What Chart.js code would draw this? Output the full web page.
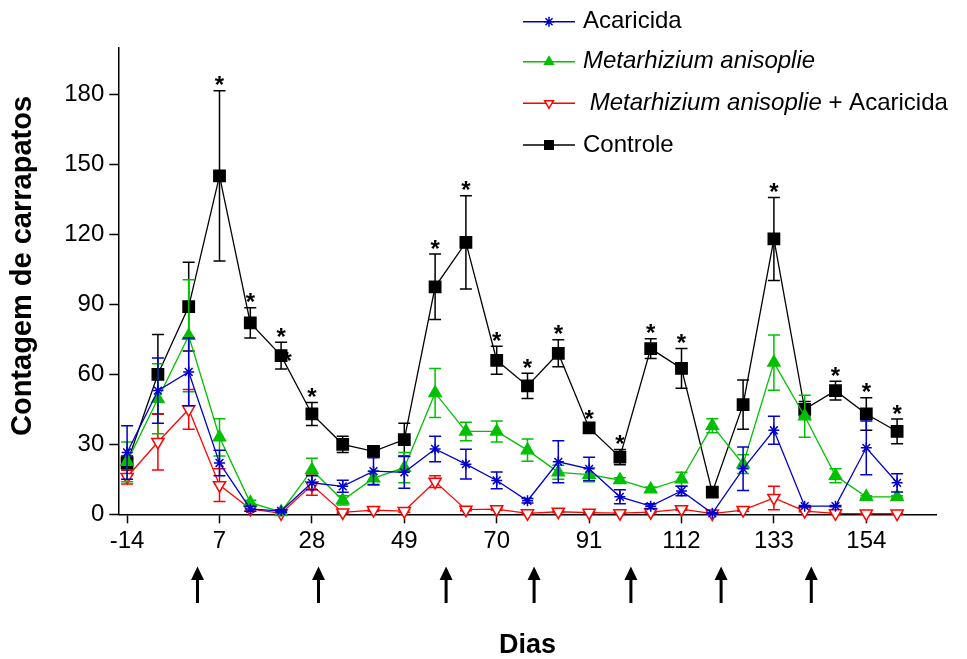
<!DOCTYPE html>
<html>
<head>
<meta charset="utf-8">
<script src="https://cdn.jsdelivr.net/npm/chart.js@4"></script>
<style>
    body { margin: 0; background: #fff; }
    #grafico { display: block; }
</style>
</head>
<body>
<canvas id="grafico" width="967" height="659"></canvas>
<script>
// Dias de coleta
const dias = [-14, -7, 0, 7, 14, 21, 28, 35, 42, 49, 56, 63, 70, 77, 84, 91, 98, 105, 112, 119, 126, 133, 140, 147, 154, 161];

// Médias e erro padrão de cada grupo
const acaricida = [26.5, 53, 61, 22, 2.3, 1.4, 13.5, 12, 18.5, 18, 28, 21.5, 14.5, 5.8, 22.5, 19.5, 7.5, 3.5, 10, 0.4, 19.5, 36, 3.5, 3.5, 28.5, 13.5];
const acaricidaEP = [11.5, 14, 14.5, 5.5, 1, 0.5, 3, 2.6, 5.7, 6.8, 5.5, 6.4, 3.6, 1, 9, 5, 3, 1, 2, 0.3, 9.3, 6, 0.3, 0.3, 11.5, 3.9];

const metarhizium = [22.5, 49.5, 76.5, 33, 5, 1, 19, 6, 15.5, 20, 52, 35.5, 35.5, 27.5, 18, 17, 14.7, 10.7, 15, 38, 21.5, 65, 42, 16.5, 7.5, 7.5];
const metarhiziumEP = [8.5, 15, 24, 8, 1, 0.5, 5, 2, 3, 6.5, 10.5, 4, 4.5, 4.8, 3, 3, 1, 1, 3, 3, 4, 11.8, 9, 3, 0.5, 0.5];

const metaAcaricida = [16, 31, 45, 12.5, 2.3, 0.4, 12.5, 0.8, 1.8, 1.4, 14, 2, 2.2, 0.4, 1.1, 0.7, 0.5, 0.9, 2.2, 0.3, 1.8, 7, 1.4, 0.4, 0.3, 0.3];
const metaAcaricidaEP = [3, 12, 8.5, 7, 1, 0.3, 4.3, 0.3, 0.5, 0.5, 2.5, 0.5, 0.5, 0.2, 0.3, 0.2, 0.2, 0.3, 0.5, 0.2, 0.5, 5, 0.3, 0.2, 0.2, 0.2];

const controle = [22, 60, 89, 145, 82, 68, 43, 30, 27, 32, 97.5, 116.5, 66, 55, 69, 37, 24.5, 71, 62.5, 9.5, 47, 118, 45, 53, 43, 35.5];
const controleEP = [3, 17, 19, 36.5, 6.5, 5.7, 4.9, 3.5, 2, 7, 14, 20, 6, 5.4, 5.8, 1.5, 3.3, 4.2, 8.5, 2, 10.6, 17.8, 3.3, 4, 7, 5.3];

// Dias com diferença significativa (asterisco sobre o controle)
const diasSignificativos = [7, 14, 21, 28, 56, 63, 70, 77, 84, 91, 98, 105, 112, 133, 147, 154, 161];
const asteriscoExtra = [21];

// Dias de tratamento (setas)
const diasTratamento = [2, 29.5, 58.5, 78.5, 100.5, 121, 141.5];

// Ticks dos eixos
const ticksX = [-14, 7, 28, 49, 70, 91, 112, 133, 154];
const ticksY = [0, 30, 60, 90, 120, 150, 180];

const FONTE = "'Liberation Sans', Arial, sans-serif";

function pontos(valores) {
    return valores.map((v, i) => ({ x: dias[i], y: v }));
}

const grupos = [
    { nome: "Acaricida", dados: acaricida, ep: acaricidaEP, cor: "#0000cc", estilo: "star", raio: 5.5, fundo: "#0000cc", rot: 0 },
    { nome: "Metarhizium anisoplie", dados: metarhizium, ep: metarhiziumEP, cor: "#00c000", estilo: "triangle", raio: 7, fundo: "#00c000", rot: 0 },
    { nome: "Metarhizium anisoplie + Acaricida", dados: metaAcaricida, ep: metaAcaricidaEP, cor: "#ff0000", estilo: "triangle", raio: 7, fundo: "#ffffff", rot: 180 },
    { nome: "Controle", dados: controle, ep: controleEP, cor: "#000000", estilo: "rect", raio: 8, fundo: "#000000", rot: 0 }
];

// Barras de erro desenhadas antes de cada série
const barrasErro = {
    id: "barrasErro",
    beforeDatasetDraw(chart, args) {
        const g = grupos[args.index];
        const ctx = chart.ctx;
        const x = chart.scales.x, y = chart.scales.y;
        ctx.save();
        ctx.strokeStyle = g.cor;
        ctx.lineWidth = 1.5;
        g.dados.forEach((v, i) => {
            const px = x.getPixelForValue(dias[i]);
            const yTop = y.getPixelForValue(v + g.ep[i]);
            const yBot = y.getPixelForValue(Math.max(0, v - g.ep[i]));
            ctx.beginPath();
            ctx.moveTo(px, yTop); ctx.lineTo(px, yBot);
            ctx.moveTo(px - 6, yTop); ctx.lineTo(px + 6, yTop);
            ctx.moveTo(px - 6, yBot); ctx.lineTo(px + 6, yBot);
            ctx.stroke();
        });
        ctx.restore();
    }
};

// Asteriscos, setas, títulos dos eixos e legenda
const extras = {
    id: "extras",
    afterDraw(chart) {
        const ctx = chart.ctx;
        const x = chart.scales.x, y = chart.scales.y;
        ctx.save();
        ctx.fillStyle = "#000";
        ctx.font = "bold 24px " + FONTE;
        ctx.textAlign = "center";
        ctx.textBaseline = "alphabetic";
        diasSignificativos.forEach(d => {
            const i = dias.indexOf(d);
            const px = x.getPixelForValue(d);
            const py = y.getPixelForValue(controle[i] + controleEP[i]);
            ctx.fillText("*", px, py - 11 + 13.5);
        });
        asteriscoExtra.forEach(d => {
            const i = dias.indexOf(d);
            ctx.fillText("*", x.getPixelForValue(d) + 6, y.getPixelForValue(controle[i]) + 13.5);
        });

        // setas
        ctx.strokeStyle = "#000";
        ctx.lineWidth = 3;
        diasTratamento.forEach(d => {
            const px = x.getPixelForValue(d);
            ctx.beginPath();
            ctx.moveTo(px, 603); ctx.lineTo(px, 578);
            ctx.stroke();
            ctx.beginPath();
            ctx.moveTo(px - 6.5, 580); ctx.lineTo(px + 6.5, 580); ctx.lineTo(px, 566.5);
            ctx.closePath();
            ctx.fill();
        });

        // títulos dos eixos
        ctx.textBaseline = "middle";
        ctx.font = "bold 27px " + FONTE;
        ctx.fillText("Dias", (chart.chartArea.left + chart.chartArea.right) / 2, 646);
        ctx.save();
        ctx.translate(23, 266);
        ctx.rotate(-Math.PI / 2);
        ctx.font = "bold 29px " + FONTE;
        ctx.fillText("Contagem de carrapatos", 0, 0);
        ctx.restore();

        // legenda
        const linhasY = [21.7, 61.7, 103.3, 145];
        ctx.textAlign = "left";
        grupos.forEach((g, k) => {
            const ly = linhasY[k];
            ctx.strokeStyle = g.cor;
            ctx.lineWidth = 1.5;
            ctx.beginPath();
            ctx.moveTo(523, ly); ctx.lineTo(575, ly);
            ctx.stroke();
            ctx.fillStyle = g.fundo;
            ctx.lineWidth = 1.5;
            Chart.helpers.drawPoint(ctx, {
                pointStyle: g.estilo,
                radius: g.estilo === "rect" ? 6 : 5,
                rotation: g.rot,
                borderWidth: 1.5
            }, 549, ly);
            ctx.fillStyle = "#000";
            if (k === 0 || k === 3) {
                ctx.font = "24px " + FONTE;
                ctx.fillText(g.nome, 583, ly);
            } else {
                ctx.font = "italic 24px " + FONTE;
                const italico = (k === 2 ? " " : "") + "Metarhizium anisoplie";
                ctx.fillText(italico, 583, ly);
                if (k === 2) {
                    const w = ctx.measureText(italico).width;
                    ctx.font = "24px " + FONTE;
                    ctx.fillText(" + Acaricida", 583 + w, ly);
                }
            }
        });
        ctx.restore();
    }
};

const ctx = document.getElementById("grafico").getContext("2d");

new Chart(ctx, {
    type: "line",
    data: {
        datasets: grupos.map(g => ({
            label: g.nome,
            data: pontos(g.dados),
            borderColor: g.cor,
            borderWidth: 1.3,
            backgroundColor: g.fundo,
            pointStyle: g.estilo,
            pointRadius: g.raio,
            pointRotation: g.rot,
            pointBorderColor: g.cor,
            pointBackgroundColor: g.fundo,
            pointBorderWidth: 1.5,
            tension: 0,
            clip: false
        }))
    },
    options: {
        responsive: false,
        animation: false,
        layout: { padding: { top: 47.6, right: 30.3, left: 0, bottom: 0 } },
        plugins: {
            legend: { display: false },
            tooltip: { enabled: false }
        },
        scales: {
            x: {
                type: "linear",
                min: -16,
                max: 170,
                afterBuildTicks: scale => { scale.ticks = ticksX.map(v => ({ value: v })); },
                afterFit: scale => { scale.height = 144.7; },
                grid: { drawOnChartArea: false, drawTicks: true, tickLength: 9, color: "#000", tickWidth: 1.5 },
                border: { display: true, color: "#000", width: 1.5 },
                ticks: { color: "#000", font: { family: FONTE, size: 24 }, padding: 4, maxRotation: 0, autoSkip: false }
            },
            y: {
                min: 0,
                max: 200,
                afterBuildTicks: scale => { scale.ticks = ticksY.map(v => ({ value: v })); },
                afterFit: scale => { scale.width = 118.3; },
                grid: { drawOnChartArea: false, drawTicks: true, tickLength: 9, color: "#000", tickWidth: 1.5 },
                border: { display: true, color: "#000", width: 1.5 },
                ticks: { color: "#000", font: { family: FONTE, size: 24 }, padding: 5 }
            }
        }
    },
    plugins: [barrasErro, extras]
});
</script>
</body>
</html>
